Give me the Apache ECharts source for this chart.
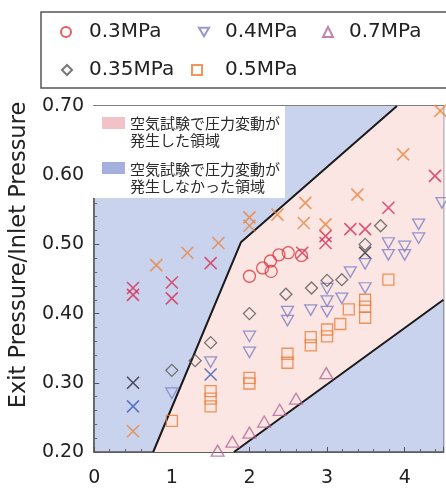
<!DOCTYPE html>
<html><head><meta charset="utf-8">
<script src="https://cdn.jsdelivr.net/npm/echarts@6/dist/echarts.min.js"></script>
<style>html,body{margin:0;padding:0;background:#fff}#c{width:446px;height:488px}</style>
</head><body><div id="c"></div>
<script>
// ---- data ----
const xTickValues = [0, 1, 2, 3, 4];
const yTickValues = [0.20, 0.30, 0.40, 0.50, 0.60, 0.70];
const seriesNames = ['0.3MPa', '0.4MPa', '0.7MPa', '0.35MPa', '0.5MPa'];
const p03 = [[2.0,0.454],[2.17,0.466],[2.28,0.461],[2.27,0.476],[2.38,0.485],[2.5,0.488],[2.67,0.484]];
const p04 = [[1.0,0.285],[1.5,0.33],[2.0,0.367],[2.0,0.344],[2.49,0.403],[2.49,0.39],[2.79,0.405],[3.0,0.436],[3.0,0.418],[3.0,0.403],[3.19,0.422],[3.3,0.46],[3.49,0.472],[3.49,0.437],[3.79,0.502],[3.79,0.485],[4.0,0.497],[4.0,0.485],[4.18,0.529],[4.18,0.509],[4.48,0.56]];
const p07 = [[1.59,0.202],[1.78,0.215],[2.0,0.228],[2.19,0.244],[2.39,0.261],[2.6,0.277],[2.99,0.314]];
const p035 = [[1.0,0.318],[1.3,0.332],[1.5,0.358],[2.0,0.40],[2.47,0.428],[2.8,0.437],[3.0,0.448],[3.19,0.449],[3.49,0.50],[3.69,0.527]];
const p05 = [[1.0,0.245],[1.5,0.288],[1.5,0.277],[1.5,0.266],[2.0,0.307],[2.0,0.299],[2.49,0.342],[2.49,0.329],[2.79,0.366],[2.79,0.354],[3.0,0.377],[3.0,0.367],[3.17,0.385],[3.28,0.406],[3.49,0.42],[3.49,0.41],[3.49,0.394],[3.79,0.449]];
const xOrange = [[0.5,0.23],[0.8,0.47],[1.2,0.488],[1.6,0.502],[2.0,0.539],[2.0,0.527],[2.36,0.543],[2.72,0.56],[2.7,0.531],[2.98,0.529],[3.39,0.572],[3.98,0.63],[4.46,0.693]];
const xRed = [[0.5,0.437],[0.5,0.427],[1.0,0.445],[1.0,0.422],[1.5,0.473],[2.68,0.488],[2.98,0.512],[2.98,0.502],[3.3,0.522],[3.49,0.522],[3.79,0.553],[4.39,0.599]];
const xBlue = [[0.5,0.266],[1.5,0.312]];
const xDark = [[0.5,0.30],[3.49,0.488]];
const regionOccurred = [[0.76,0.2],[1.89,0.503],[3.9,0.7],[4.5,0.7],[4.5,0.42],[1.8,0.2]];
const regionNone = [[0,0.2],[0,0.7],[4.5,0.7],[4.5,0.2]];
const boundaryUpper = [[0.76,0.2],[1.89,0.503],[3.9,0.7]];
const boundaryLower = [[1.8,0.2],[4.5,0.42]];
const regionLabels = ['空気試験で圧力変動が', '発生した領域', '空気試験で圧力変動が', '発生しなかった領域'];
const axisName = 'Exit Pressure/Inlet Pressure';

// ---- chart ----
const chart = echarts.init(document.getElementById('c'));
const FONT = 'DejaVu Sans';
const triDown = 'path://M0,0 L10,0 L5,8.66 Z';
const cross = 'path://M0,0 L10,10 M0,10 L10,0';
function hollow(c, w) { return { color: 'rgba(0,0,0,0)', borderColor: c, borderWidth: w || 1.3 }; }
function scatter(name, data, symbol, size, color) {
  return { type: 'scatter', name, data, symbol, symbolSize: size, itemStyle: hollow(color), clip: false, z: 5, silent: true };
}
function cross_(name, data, color) {
  return { type: 'scatter', name, data, symbol: cross, symbolSize: 12, itemStyle: hollow(color, 1.6), clip: false, z: 4, silent: true };
}
function region(name, pts, fill, z) {
  return {
    type: 'custom', name, z, silent: true,
    data: [pts[0]],
    renderItem: (params, api) => ({
      type: 'polygon',
      shape: { points: pts.map(p => api.coord(p)) },
      style: { fill }
    })
  };
}
function leg(name, left, top, padLeft) {
  return { data: [name], left, top, padding: 0, itemWidth: 10, itemHeight: 10, selectedMode: false,
    textStyle: { fontSize: 20, fontFamily: FONT, color: '#222', padding: [0, 0, 0, padLeft] } };
}
const jpText = (y, t) => ({ type: 'text', z: 101, style: { x: 130, y, text: t, fontSize: 15,
  fontFamily: 'Noto Sans CJK JP', fill: '#2a2a2a', verticalAlign: 'middle' } });
const option = {
  animation: false,
  legend: [
    leg(seriesNames[0], 60, 22, 13),
    leg(seriesNames[1], 198, 22, 11),
    leg(seriesNames[2], 322, 22, 11),
    leg(seriesNames[3], 61, 60, 12),
    leg(seriesNames[4], 191, 60, 18)
  ],
  grid: { left: 92.5, right: 2.5, top: 106, bottom: 36, show: true,
    backgroundColor: '#cad3ee', borderColor: '#555', borderWidth: 1.5 },
  xAxis: {
    type: 'value', min: xTickValues[0], max: 4.5, interval: 1,
    axisLine: { show: true, lineStyle: { color: '#555', width: 1.5 } },
    axisTick: { show: true, inside: true, length: 5, lineStyle: { color: '#555' } },
    minorTick: { show: true, splitNumber: 5, length: 3, lineStyle: { color: '#666' } },
    splitLine: { show: false },
    axisLabel: { fontSize: 19, fontFamily: FONT, color: '#222', margin: 17, showMaxLabel: false,
      formatter: v => xTickValues.includes(v) ? String(v) : '' }
  },
  yAxis: {
    type: 'value', min: yTickValues[0], max: yTickValues[yTickValues.length - 1], interval: 0.1,
    name: axisName, nameLocation: 'middle', nameGap: 60,
    nameTextStyle: { fontSize: 22.5, fontFamily: FONT, color: '#222', padding: [0, 0, 0, 48] },
    axisLine: { show: true, lineStyle: { color: '#555', width: 1.5 } },
    axisTick: { show: true, inside: true, length: 5, lineStyle: { color: '#555' } },
    minorTick: { show: true, splitNumber: 5, length: 3, lineStyle: { color: '#666' } },
    splitLine: { show: false },
    axisLabel: { fontSize: 19, fontFamily: FONT, color: '#222', margin: 10, formatter: v => v.toFixed(2) }
  },
  graphic: [
    { type: 'rect', z: 100, shape: { x: 41, y: 12, width: 420, height: 76 },
      style: { fill: 'none', stroke: '#555', lineWidth: 1.5 } },
    { type: 'rect', z: 100, shape: { x: 93, y: 106, width: 192, height: 92 }, style: { fill: '#fff' } },
    { type: 'rect', z: 101, shape: { x: 102, y: 117, width: 23, height: 12 }, style: { fill: '#f1c3c6' } },
    { type: 'rect', z: 101, shape: { x: 102, y: 162, width: 23, height: 12 }, style: { fill: '#a4afdd' } },
    jpText(123, regionLabels[0]),
    jpText(140, regionLabels[1]),
    jpText(169, regionLabels[2]),
    jpText(186, regionLabels[3])
  ],
  series: [
    region('none', regionNone, '#cad3ee', 0),
    region('occurred', regionOccurred, '#fbe6e3', 1),
    { type: 'line', data: boundaryUpper, symbol: 'none', lineStyle: { color: '#1a1a1a', width: 2 }, z: 3, silent: true },
    { type: 'line', data: boundaryLower, symbol: 'none', lineStyle: { color: '#1a1a1a', width: 2 }, z: 3, silent: true },
    cross_('xOrange', xOrange, '#e8843e'),
    cross_('xRed', xRed, '#d43055'),
    cross_('xBlue', xBlue, '#3d5cb5'),
    cross_('xDark', xDark, '#2a2a3a'),
    scatter(seriesNames[0], p03, 'circle', 12, '#e03438'),
    scatter(seriesNames[1], p04, triDown, [12, 10.5], '#7c7ec4'),
    scatter(seriesNames[2], p07, 'triangle', [13, 11], '#b36597'),
    scatter(seriesNames[3], p035, 'diamond', 12, '#555'),
    scatter(seriesNames[4], p05, 'rect', 11, '#ec7c34')
  ]
};
chart.setOption(option);
</script></body></html>
